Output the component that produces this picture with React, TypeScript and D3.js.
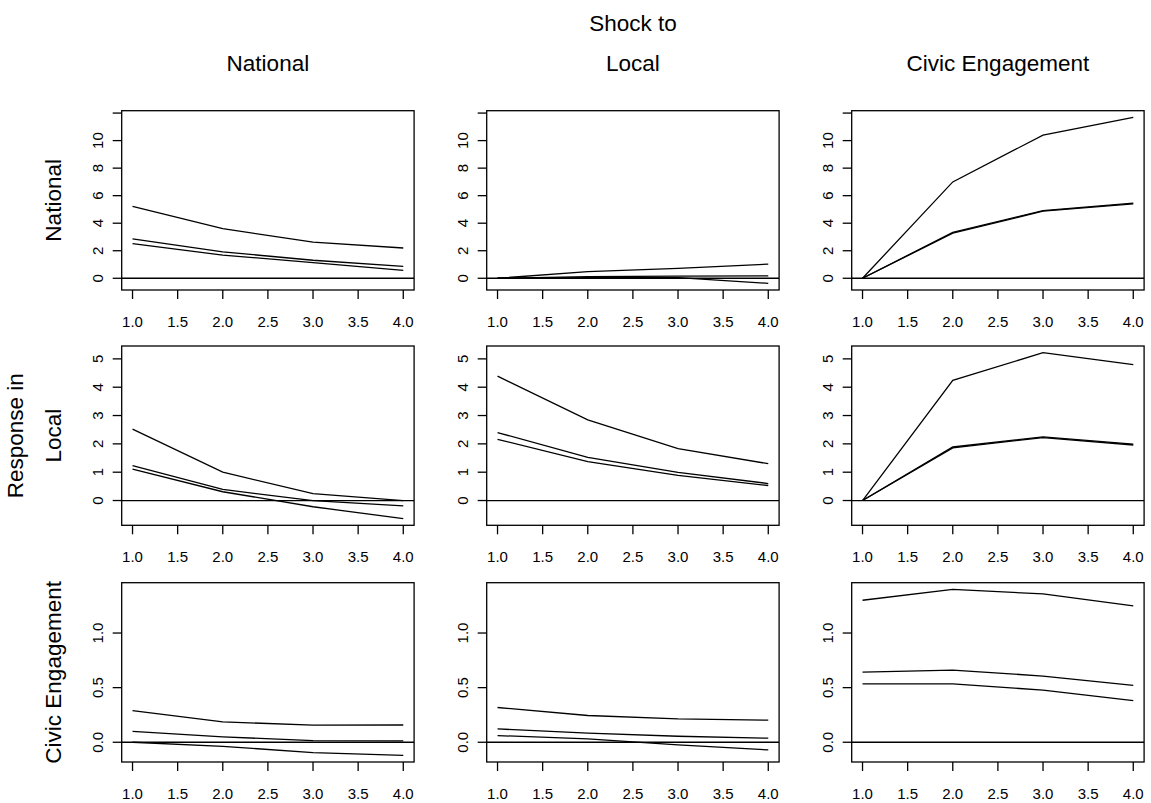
import React from 'react';
import * as d3 from 'd3';

// Impulse responses (upper bound, estimate, lower bound) for 4 steps
const steps = [1, 2, 3, 4];
const shockNames = ['National', 'Local', 'Civic Engagement'];
const responseNames = ['National', 'Local', 'Civic Engagement'];

// row: response in National
const natToNat = [[5.22, 3.6, 2.62, 2.2], [2.86, 1.92, 1.31, 0.87], [2.52, 1.68, 1.14, 0.58]];
const natToLoc = [[0, 0.48, 0.72, 1.03], [0, 0.12, 0.16, 0.18], [0, 0.05, 0.04, -0.37]];
const natToCiv = [[0, 7.0, 10.4, 11.69], [0, 3.33, 4.92, 5.46], [0, 3.28, 4.87, 5.41]];
// row: response in Local
const locToNat = [[2.52, 1.0, 0.24, 0.0], [1.23, 0.39, 0.0, -0.19], [1.11, 0.31, -0.22, -0.64]];
const locToLoc = [[4.39, 2.85, 1.83, 1.3], [2.4, 1.52, 0.99, 0.6], [2.16, 1.37, 0.89, 0.53]];
const locToCiv = [[0, 4.24, 5.22, 4.8], [0, 1.89, 2.25, 1.99], [0, 1.86, 2.22, 1.96]];
// row: response in Civic Engagement
const civToNat = [[0.29, 0.187, 0.156, 0.158], [0.1, 0.049, 0.015, 0.012], [0.0, -0.037, -0.095, -0.12]];
const civToLoc = [[0.318, 0.245, 0.214, 0.202], [0.122, 0.083, 0.055, 0.037], [0.061, 0.031, -0.024, -0.07]];
const civToCiv = [[1.3, 1.4, 1.358, 1.248], [0.642, 0.661, 0.606, 0.52], [0.535, 0.535, 0.477, 0.382]];

const panels = [
  [natToNat, natToLoc, natToCiv],
  [locToNat, locToLoc, locToCiv],
  [civToNat, civToLoc, civToCiv],
];

const xTicks = [1, 1.5, 2, 2.5, 3, 3.5, 4];
const yTicks = [[0, 2, 4, 6, 8, 10, 12], [0, 1, 2, 3, 4, 5], [0, 0.5, 1]];
const yTickLabels = [['0', '2', '4', '6', '8', '10', ''], ['0', '1', '2', '3', '4', '5'], ['0.0', '0.5', '1.0']];

const W = 1151;
const H = 803;
const colLeft = [121.7, 486.7, 851.7];
const rowTop = [110.7, 346, 582.7];
const boxW = 292.4;
const boxH = 179.3;
const tick = 9;
const font = 'Liberation Sans, Arial, Helvetica, sans-serif';

// R style 4% padding
const pad = (lo: number, hi: number): [number, number] => {
  const r = hi - lo;
  return [lo - 0.04 * r, hi + 0.04 * r];
};

const App = () => {
  return (
    <svg width={W} height={H} style={{ position: 'absolute', left: 0, top: 0, background: '#fff' }}
      fontFamily={font}>
      <text x={633} y={31} fontSize={22.5} textAnchor="middle">Shock to</text>
      {shockNames.map((s, j) => (
        <text key={s} x={colLeft[j] + boxW / 2} y={71} fontSize={22.5} textAnchor="middle">{s}</text>
      ))}
      <text transform={`translate(23,${rowTop[1] + boxH / 2}) rotate(-90)`} fontSize={22.5}
        textAnchor="middle">Response in</text>
      {responseNames.map((r, i) => (
        <text key={r} transform={`translate(61,${rowTop[i] + boxH / 2}) rotate(-90)`} fontSize={22.5}
          textAnchor="middle">{r}</text>
      ))}

      {panels.map((row, i) => {
        const all = row.flat(2);
        const y = d3.scaleLinear()
          .domain(pad(d3.min(all) as number, d3.max(all) as number))
          .range([rowTop[i] + boxH, rowTop[i]]);
        return row.map((series, j) => {
          const x = d3.scaleLinear()
            .domain(pad(1, 4))
            .range([colLeft[j], colLeft[j] + boxW]);
          const line = d3.line<number>()
            .x((_, k) => x(steps[k]))
            .y(d => y(d));
          const bottom = rowTop[i] + boxH;
          return (
            <g key={`${i}-${j}`} stroke="#000" fill="none" strokeWidth={1.3}>
              {series.map((s, k) => (
                <path key={k} d={line(s) as string} />
              ))}
              <line x1={colLeft[j]} x2={colLeft[j] + boxW} y1={y(0)} y2={y(0)} />
              <rect x={colLeft[j]} y={rowTop[i]} width={boxW} height={boxH} />
              {/* x axis */}
              {xTicks.map(t => (
                <g key={t}>
                  <line x1={x(t)} x2={x(t)} y1={bottom} y2={bottom + tick} />
                  <text x={x(t)} y={bottom + 36.5} fontSize={15} textAnchor="middle" stroke="none"
                    fill="#000">{t.toFixed(1)}</text>
                </g>
              ))}
              {/* y axis */}
              {yTicks[i].map((t, k) => (
                <g key={t}>
                  <line x1={colLeft[j] - tick} x2={colLeft[j]} y1={y(t)} y2={y(t)} />
                  <text transform={`translate(${colLeft[j] - 19},${y(t)}) rotate(-90)`} fontSize={15}
                    textAnchor="middle" stroke="none" fill="#000">{yTickLabels[i][k]}</text>
                </g>
              ))}
            </g>
          );
        });
      })}
    </svg>
  );
};

export default App;
